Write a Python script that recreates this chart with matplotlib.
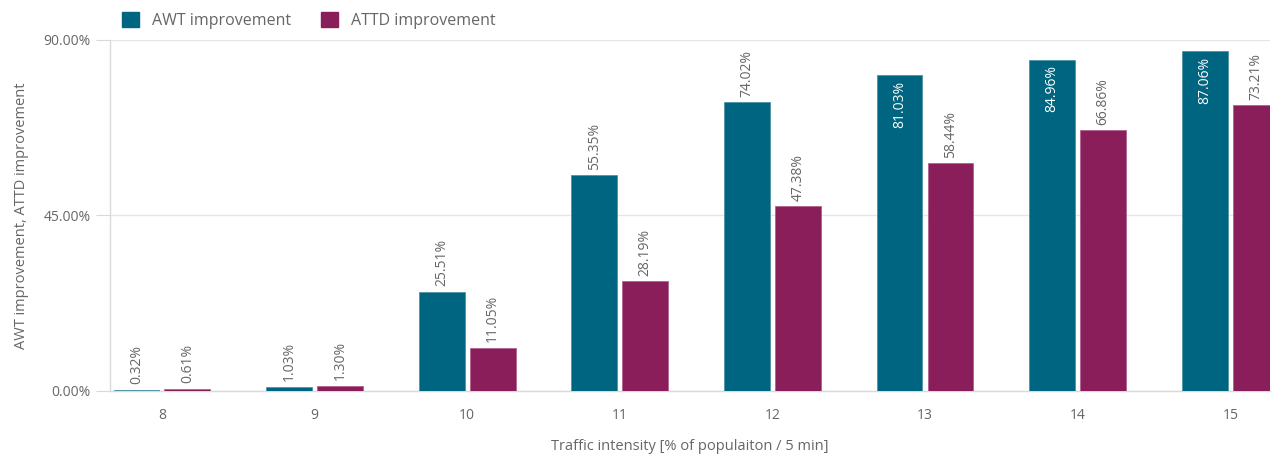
import numpy as np
import matplotlib.pyplot as plt
from matplotlib.patches import Patch

plt.rcParams['font.family'] = ['Open Sans', 'DejaVu Sans']

categories = ['8', '9', '10', '11', '12', '13', '14', '15']
awt = [0.32, 1.03, 25.51, 55.35, 74.02, 81.03, 84.96, 87.06]
attd = [0.61, 1.30, 11.05, 28.19, 47.38, 58.44, 66.86, 73.21]

awt_color = '#006580'
attd_color = '#8a1e5b'
text_grey = '#666666'
line_grey = '#dadada'

fig = plt.figure(figsize=(12.8, 4.59), dpi=100)
ax = fig.add_axes([110 / 1280, 68 / 459, 1160 / 1280, 351 / 459])

x = np.arange(len(categories))
width = 0.30
offset = 0.167

bars_awt = ax.bar(x - offset, awt, width, color=awt_color,
                  edgecolor='#4f93a6', linewidth=0.6, zorder=3)
bars_attd = ax.bar(x + offset, attd, width, color=attd_color,
                   edgecolor='#b0628d', linewidth=0.6, zorder=3)

ymax = 90
for bars, vals in ((bars_awt, awt), (bars_attd, attd)):
    for b, v in zip(bars, vals):
        cx = b.get_x() + b.get_width() / 2
        label = f'{v:.2f}%'
        if v + 13 > ymax:
            # label doesn't fit above the bar, put it inside near the top
            ax.annotate(label, (cx, v), xytext=(0, -4), textcoords='offset points',
                        rotation=90, ha='center', va='top', color='white',
                        fontsize=10, zorder=4)
        else:
            ax.annotate(label, (cx, v), xytext=(0, 4), textcoords='offset points',
                        rotation=90, ha='center', va='bottom', color=text_grey,
                        fontsize=10, zorder=4)

ax.set_xlim(-0.34, 7.26)
ax.set_ylim(0, ymax)
ax.set_yticks([0, 45, 90])
ax.set_yticklabels(['0.00%', '45.00%', '90.00%'])
ax.set_xticks(x)
ax.set_xticklabels(categories)

ax.grid(axis='y', color='#e6e6e6', linewidth=1, zorder=0)
ax.set_axisbelow(True)
for side in ('top', 'right'):
    ax.spines[side].set_visible(False)
for side in ('left', 'bottom'):
    ax.spines[side].set_color(line_grey)
    ax.spines[side].set_linewidth(1)

ax.tick_params(axis='y', length=10, color=line_grey, labelcolor=text_grey,
               labelsize=10, pad=4)
ax.tick_params(axis='x', length=0, labelcolor=text_grey, labelsize=10, pad=12)

ax.set_xlabel('Traffic intensity [% of populaiton / 5 min]', color=text_grey,
              fontsize=10.5, labelpad=12)
ax.set_ylabel('AWT improvement, ATTD improvement', color=text_grey,
              fontsize=10.5, labelpad=10)

handles = [Patch(color=awt_color, label='AWT improvement'),
           Patch(color=attd_color, label='ATTD improvement')]
fig.legend(handles=handles, loc='upper left', bbox_to_anchor=(108 / 1280, 1.005),
           ncol=2, frameon=False, fontsize=11.5, labelcolor=text_grey,
           handlelength=1.05, handleheight=1.05, handletextpad=0.8,
           columnspacing=1.9)

fig.savefig('out.png', dpi=100)
